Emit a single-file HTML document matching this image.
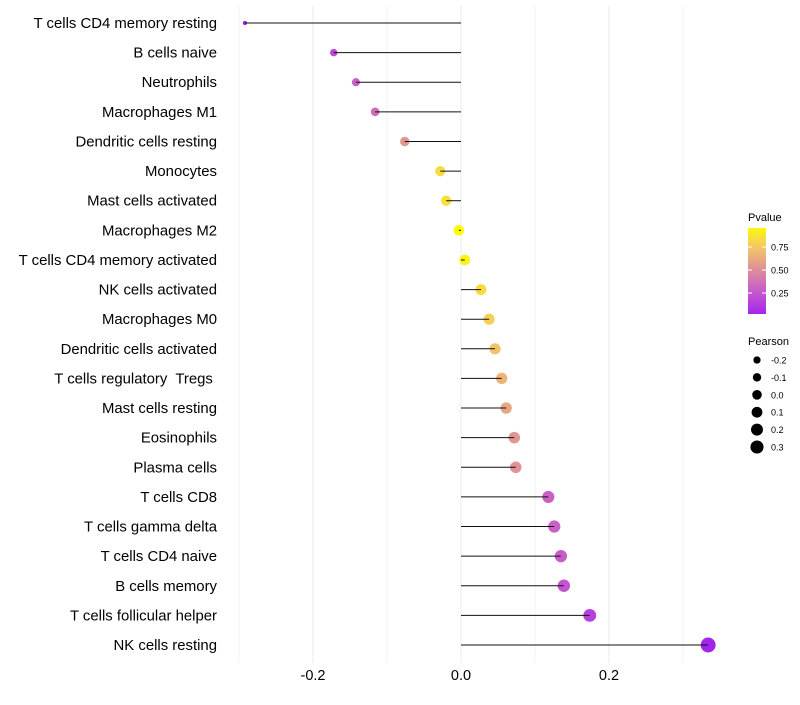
<!DOCTYPE html>
<html><head><meta charset="utf-8"><style>
body{margin:0;background:#fff;font-family:"Liberation Sans",sans-serif}
svg text{font-family:"Liberation Sans",sans-serif;white-space:pre}
</style></head><body>
<svg id="c" width="800" height="700"></svg>
<script>
const categories=["T cells CD4 memory resting","B cells naive","Neutrophils","Macrophages M1","Dendritic cells resting","Monocytes","Mast cells activated","Macrophages M2","T cells CD4 memory activated","NK cells activated","Macrophages M0","Dendritic cells activated","T cells regulatory  Tregs ","Mast cells resting","Eosinophils","Plasma cells","T cells CD8","T cells gamma delta","T cells CD4 naive","B cells memory","T cells follicular helper","NK cells resting"];
const pearson=[-0.292,-0.172,-0.142,-0.116,-0.076,-0.028,-0.020,-0.003,0.005,0.027,0.038,0.046,0.055,0.061,0.072,0.074,0.118,0.126,0.135,0.139,0.174,0.334];
const pvalue=[0.0,0.2,0.3,0.35,0.55,0.85,0.87,0.99,0.95,0.85,0.8,0.75,0.68,0.62,0.55,0.53,0.3,0.3,0.28,0.25,0.15,0.02];
const xTicks=[-0.2,0.0,0.2];
const xMinor=[-0.3,-0.1,0.1,0.3];
const pTicks=[0.25,0.5,0.75];
const sizeLegend=[-0.2,-0.1,0.0,0.1,0.2,0.3];

const NS="http://www.w3.org/2000/svg";
const svg=document.getElementById('c');
function el(t,a,p){const e=document.createElementNS(NS,t);for(const k in a)e.setAttribute(k,a[k]);(p||svg).appendChild(e);return e;}
const x=v=>461+v*740;
const y=i=>23+i*(622/21);
const r=v=>Math.max(2,5.3+6.5*v-15*Math.pow(Math.min(v,0),2));
const rl=v=>4.8+6.5*v*0.9;
function hex(c){return c.match(/\w\w/g).map(h=>parseInt(h,16));}
const stops=[[0,hex("a020f0")],[0.25,hex("c455d0")],[0.5,hex("dc8c9c")],[0.75,hex("f2c46a")],[1,hex("ffff00")]];
function col(p){p=Math.max(0,Math.min(1,p));let i=Math.min(3,Math.floor(p/0.25));const [a,ca]=stops[i],[b,cb]=stops[i+1];const t=(p-a)/(b-a);return "rgb("+ca.map((c,k)=>Math.round(c+(cb[k]-c)*t)).join(",")+")";}

const grid=el('g',{});


xMinor.concat(xTicks).forEach(v=>{el('line',{x1:x(v),x2:x(v),y1:5,y2:663,stroke:'#ebebeb','stroke-width':xTicks.includes(v)?1:0.6},grid);});

xTicks.forEach(v=>{const t=el('text',{x:x(v),y:680,'text-anchor':'middle','font-size':14.5,fill:'#000'});t.textContent=v.toFixed(1);

});

categories.forEach((c,i)=>{
const t=el('text',{x:217,y:y(i)+5,'text-anchor':'end','font-size':14.9,fill:'#000'});t.textContent=c;


const d=el('circle',{cx:x(pearson[i]),cy:y(i),r:r(pearson[i]),fill:col(pvalue[i])});


const l=el('line',{x1:x(0),x2:x(pearson[i]),y1:y(i),y2:y(i),stroke:'#111','stroke-width':1});


});

const lg=el('g',{});


el('text',{x:748,y:221,'font-size':11},lg).textContent='Pvalue';
const defs=el('defs',{});
const gr=el('linearGradient',{id:'pg',x1:0,y1:1,x2:0,y2:0},defs);
[0,0.125,0.25,0.375,0.5,0.625,0.75,0.875,1].forEach(o=>el('stop',{offset:o,'stop-color':col(0.03+o*0.94)},gr));
el('rect',{x:748,y:228,width:18,height:86,fill:'url(#pg)'},lg);
const py=p=>270-(p-0.5)*92;
pTicks.forEach(p=>{el('line',{x1:748,x2:752,y1:py(p),y2:py(p),stroke:'#fff'},lg);el('line',{x1:762,x2:766,y1:py(p),y2:py(p),stroke:'#fff'},lg);
el('text',{x:771,y:py(p)+3.5,'font-size':9},lg).textContent=p.toFixed(2);});

const sg=el('g',{});


el('text',{x:748,y:345,'font-size':11},sg).textContent='Pearson';
sizeLegend.forEach((v,i)=>{const yy=360+i*17.4;el('circle',{cx:757,cy:yy,r:rl(v)},sg);
el('text',{x:771,y:yy+3.5,'font-size':9},sg).textContent=v.toFixed(1);});
</script>
</body></html>
